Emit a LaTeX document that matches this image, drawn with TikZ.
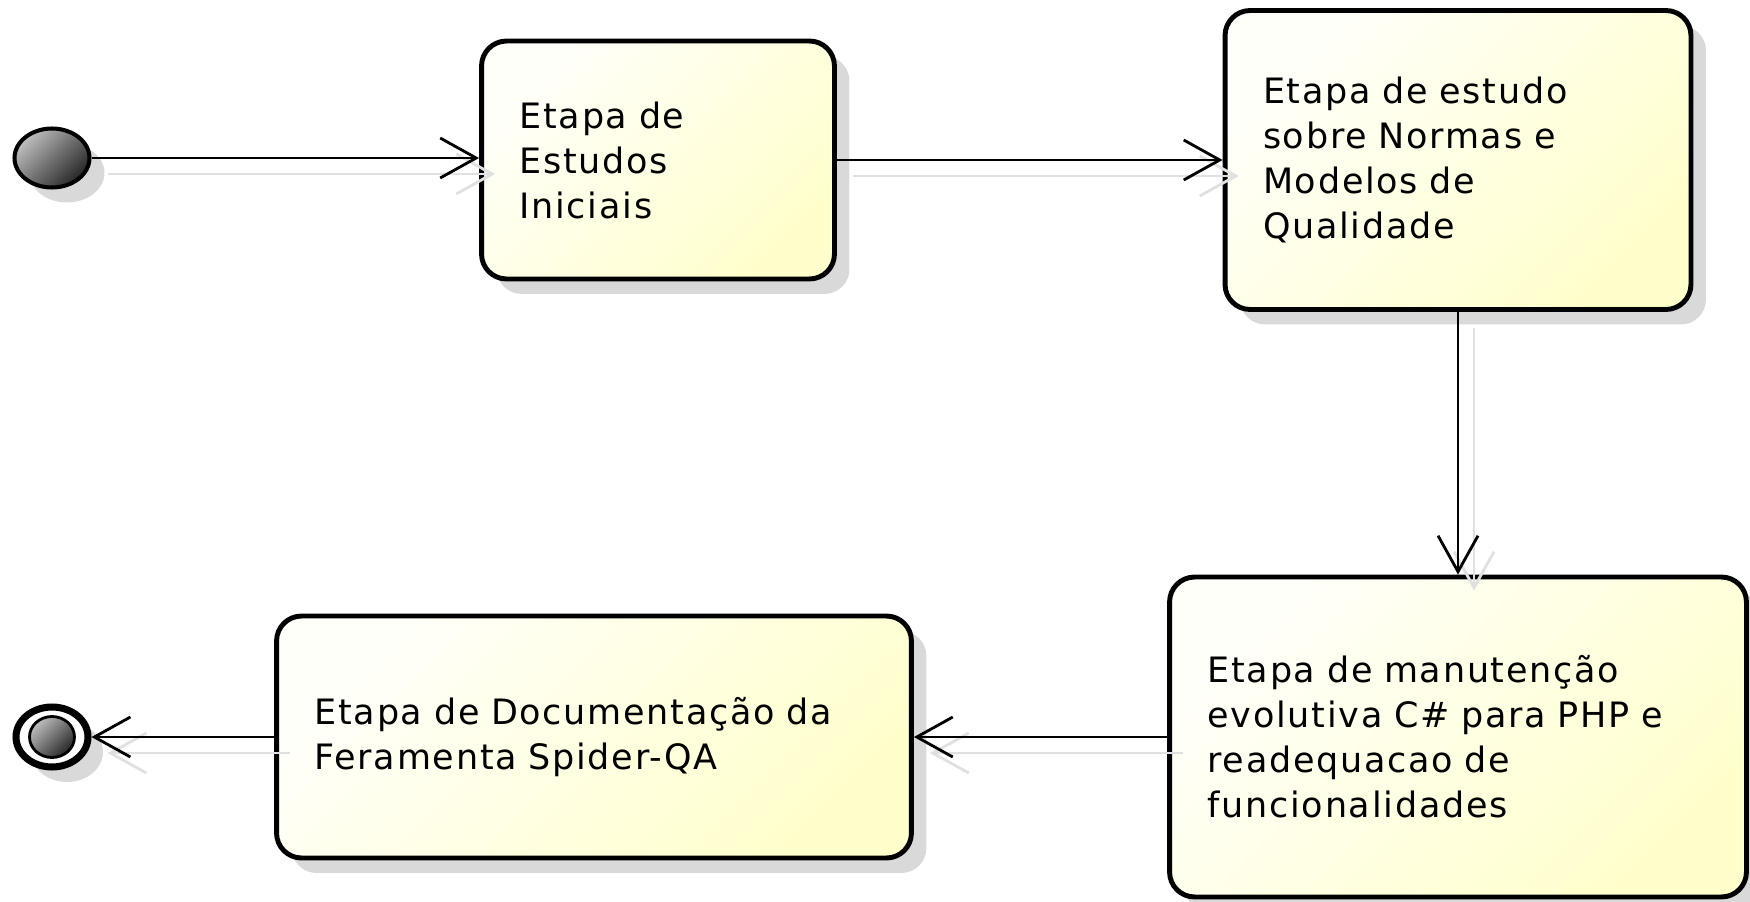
\documentclass[tikz,border=0pt]{standalone}
\usepackage{fontspec}
\usepackage{xcolor}
\usepackage{tikz}
\usetikzlibrary{shapes.geometric}
\usetikzlibrary{arrows.meta}
\usetikzlibrary{shadows}

\newfontfamily\etapafont[LetterSpace=5]{DejaVu Sans}
\definecolor{etapalight}{HTML}{FFFFFA}
\definecolor{etapadark}{HTML}{FFFFCC}
\definecolor{sombra}{HTML}{D9D9D9}

\tikzset{
  sombreado/.style={drop shadow={shadow xshift=0.3cm, shadow yshift=-0.3cm, fill=sombra, opacity=1}},
  etapa/.style={draw, line width=2.8pt, rounded corners=0.5cm, top color=etapalight, bottom color=etapadark, shading angle=45,
    inner xsep=0.76cm, align=left, font=\etapafont\fontsize{19.9pt}{25.6pt}\selectfont, sombreado},
  pseudo/.style={ellipse, draw, inner sep=0pt, top color=black!25, bottom color=black!85, shading angle=45},
  anel/.style={ellipse, draw, inner sep=0pt, fill=white, line width=4pt, sombreado},
  conn/.style={line width=1.6pt, -{Straight Barb[length=0.72cm, width=0.8cm]}},
  connsombra/.style={conn, draw=black!12, transform canvas={shift={(16,16)}}}
}

\begin{document}
\begin{tikzpicture}[x=0.02cm, y=-0.02cm]
    \useasboundingbox (0,0) rectangle (1750,902);

    % start and end
    \node[pseudo, sombreado, line width=2.3pt, minimum width=1.5cm, minimum height=1.18cm] (inicio) at (52,158) {};
    \node[anel, minimum width=1.44cm, minimum height=1.2cm] (fim) at (52,737) {};
    \node[pseudo, line width=1.6pt, minimum width=0.9cm, minimum height=0.82cm] (fimcentro) at (52,737) {};

    % stages
    \node[etapa, text width=5.54cm, minimum height=4.76cm] (iniciais) at (658,160) {Etapa de\\Estudos\\Iniciais};
    \node[etapa, text width=7.8cm, minimum height=5.98cm] (normas) at (1458,160) {Etapa de estudo\\sobre Normas e\\Modelos de\\Qualidade};
    \node[etapa, text width=10.02cm, minimum height=6.4cm] (manutencao) at (1458,737) {Etapa de manutenção\\evolutiva C\# para PHP e\\readequacao de\\funcionalidades};
    \node[etapa, text width=11.18cm, minimum height=4.84cm] (documentacao) at (594,737) {Etapa de Documentação da\\Feramenta Spider-QA};

    % arrow shadows
    \draw[connsombra] (inicio) -- (inicio -| iniciais.west);
    \draw[connsombra] (iniciais) -- (normas);
    \draw[connsombra] (normas) -- (normas |- manutencao.north);
    \draw[connsombra] (manutencao) -- (documentacao);
    \draw[connsombra] (documentacao) -- (fim);

    % arrows
    \draw[conn] (inicio) -- (inicio -| iniciais.west);
    \draw[conn] (iniciais) -- (normas);
    \draw[conn] (normas) -- (normas |- manutencao.north);
    \draw[conn] (manutencao) -- (documentacao);
    \draw[conn] (documentacao) -- (fim);
\end{tikzpicture}
\end{document}
